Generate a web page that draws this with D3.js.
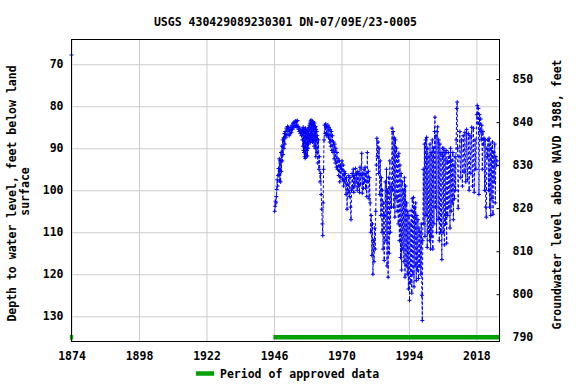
<!DOCTYPE html>
<html>
<head>
<meta charset="utf-8">
<script src="https://cdn.jsdelivr.net/npm/d3@7"></script>
<style>
    body { margin: 0; background: #ffffff; }
    .plotText { font-family: "DejaVu Sans Mono", monospace; font-weight: bold; font-size: 11.5px; fill: #000000; }
    .axisGrid line { stroke: #cccccc; stroke-width: 1; }
</style>
</head>
<body>
<div id="gwChart"></div>
<script>
// tick labels
const yearTicks = [1874, 1898, 1922, 1946, 1970, 1994, 2018];
const depthTicks = [70, 80, 90, 100, 110, 120, 130];
const elevTicks = [790, 800, 810, 820, 830, 840, 850];

// periods of approved data (start / end year)
const approvedStart = [1873.4, 1945.8];
const approvedEnd = [1874.6, 2026.2];

// depth to water level, feet below land surface  [year, depth]
const levelsEarly = [[1874.0, 67.8]];

const levels1940s = [
    [1946.25,105.0],[1946.4,103.8],[1946.55,102.6],[1946.7,103.0],[1946.85,101.5],[1947.0,99.8],
    [1947.15,97.5],[1947.3,99.0],[1947.45,96.5],[1947.6,94.8],[1947.75,96.2],[1947.9,92.5],
    [1948.05,97.8],[1948.2,93.0],[1948.35,98.0],[1948.5,91.0],[1948.65,95.5],[1948.8,89.5],
    [1948.95,93.0],[1949.1,88.0],[1949.25,91.5],[1949.4,87.5],[1949.55,90.0],[1949.7,86.5],
    [1949.85,89.0]
];

const levels1950s = [
    [1950.0,86.0],[1950.2,87.5],[1950.4,85.2],[1950.6,86.8],[1950.8,84.8],[1951.0,86.0],
    [1951.2,85.0],[1951.4,87.0],[1951.6,85.5],[1951.8,86.5],[1952.0,85.0],[1952.2,86.2],
    [1952.4,84.5],[1952.6,85.5],[1952.8,84.0],[1953.0,85.0],[1953.2,83.8],[1953.4,84.8],
    [1953.6,83.5],[1953.8,84.6],[1954.0,83.6],[1954.2,85.0],[1954.4,83.4],[1954.6,84.8],
    [1954.8,85.5],[1955.0,86.0],[1955.2,85.2],[1955.4,86.5],[1955.6,85.8],[1955.8,87.0],
    [1956.0,86.2],[1956.1,88.0],[1956.2,85.5],[1956.3,89.5],[1956.4,85.0],[1956.5,90.5],
    [1956.6,86.0],[1956.7,91.0],[1956.8,85.5],[1956.9,92.0],[1957.0,86.0],[1957.1,92.4],
    [1957.2,85.2],[1957.3,91.5],[1957.4,86.5],[1957.5,92.0],[1957.6,85.8],[1957.7,90.5],
    [1957.8,86.0],[1957.9,91.8],[1958.0,85.5],[1958.1,90.0],[1958.2,86.5],[1958.3,89.0],
    [1958.4,85.0],[1958.5,88.5],[1958.6,84.5],[1958.7,88.0],[1958.8,84.0],[1958.9,88.6],
    [1959.0,83.5],[1959.1,87.5],[1959.2,83.3],[1959.3,88.0],[1959.4,84.0],[1959.5,87.0],
    [1959.6,83.5],[1959.7,88.5],[1959.8,84.2],[1959.9,87.8]
];

const levels1960s = [
    [1960.0,83.8],[1960.1,88.2],[1960.2,84.5],[1960.3,89.5],[1960.4,84.0],[1960.5,87.0],
    [1960.6,85.0],[1960.7,90.0],[1960.8,84.8],[1960.9,92.0],[1961.0,85.5],[1961.1,88.0],
    [1961.2,86.0],[1961.3,91.0],[1961.4,87.0],[1961.6,93.5],[1961.8,88.0],[1962.0,95.0],
    [1962.2,92.0],[1962.4,98.0],[1962.6,96.0],[1962.8,101.0],[1963.0,104.5],[1963.2,108.0],
    [1963.35,110.8],[1963.5,103.0],[1963.65,95.0],[1963.8,88.0],[1964.0,84.5],[1964.2,86.5],
    [1964.4,84.2],[1964.6,87.0],[1964.8,84.8],[1965.0,86.8],[1965.2,84.5],[1965.4,87.5],
    [1965.6,85.0],[1965.8,88.5],[1966.0,85.5],[1966.2,89.5],[1966.4,86.0],[1966.6,90.5],
    [1966.8,87.0],[1967.0,91.0],[1967.2,88.5],[1967.4,92.5],[1967.6,89.0],[1967.8,93.5],
    [1968.0,90.0],[1968.2,94.5],[1968.4,91.0],[1968.6,95.0],[1968.8,92.5],[1969.0,96.5],
    [1969.2,93.0],[1969.4,98.0],[1969.6,94.0],[1969.8,97.0]
];

const levels1970s = [
    [1970.0,95.0],[1970.2,93.0],[1970.4,97.5],[1970.6,94.0],[1970.8,99.0],[1971.0,95.5],
    [1971.2,98.0],[1971.4,96.0],[1971.6,101.0],[1971.8,97.0],[1972.0,104.5],[1972.2,98.5],
    [1972.4,100.5],[1972.6,96.5],[1972.8,101.5],[1973.0,97.0],[1973.2,104.0],[1973.4,107.0],
    [1973.6,100.0],[1973.8,96.0],[1974.0,99.5],[1974.2,95.0],[1974.4,100.5],[1974.6,96.5],
    [1974.8,99.0],[1975.0,94.8],[1975.2,98.0],[1975.4,96.0],[1975.6,100.0],[1975.8,95.5],
    [1976.0,99.0],[1976.2,96.0],[1976.4,100.5],[1976.6,94.5],[1976.8,98.5],[1977.0,96.5],
    [1977.2,91.2],[1977.4,100.7],[1977.6,96.0],[1977.8,99.5],[1978.0,95.0],[1978.2,98.0],
    [1978.4,94.5],[1978.6,99.5],[1978.8,96.0],[1979.0,101.5],[1979.2,91.0],[1979.4,98.0],
    [1979.6,95.5],[1979.8,102.0]
];

const levels1980s = [
    [1980.0,97.0],[1980.2,103.0],[1980.4,110.0],[1980.6,106.0],[1980.8,115.5],[1981.0,108.0],
    [1981.2,120.0],[1981.4,112.0],[1981.6,117.0],[1981.8,109.0],[1982.0,114.0],[1982.2,105.0],
    [1982.4,94.0],[1982.6,87.6],[1982.8,92.0],[1983.0,88.5],[1983.2,96.0],[1983.4,90.0],
    [1983.6,101.0],[1983.8,93.0],[1984.0,106.0],[1984.2,97.0],[1984.4,110.0],[1984.6,100.0],
    [1984.8,114.0],[1985.0,103.0],[1985.2,116.7],[1985.4,106.0],[1985.6,98.0],[1985.8,112.0],
    [1986.0,95.0],[1986.2,118.0],[1986.4,100.0],[1986.6,120.7],[1986.8,97.0],[1987.0,115.0],
    [1987.2,93.0],[1987.4,110.0],[1987.6,99.0],[1987.8,104.0],[1988.0,85.2],[1988.2,100.0],
    [1988.4,86.0],[1988.6,104.0],[1988.8,87.5],[1989.0,106.4],[1989.2,88.0],[1989.4,102.0],
    [1989.6,90.0],[1989.8,105.0]
];

const levels1990s = [
    [1990.0,92.0],[1990.2,108.0],[1990.4,91.2],[1990.6,112.0],[1990.8,94.0],[1991.0,116.0],
    [1991.2,96.0],[1991.4,119.0],[1991.6,98.0],[1991.8,114.0],[1992.0,100.0],[1992.2,117.0],
    [1992.4,97.0],[1992.6,120.7],[1992.8,99.0],[1993.0,118.0],[1993.2,103.0],[1993.4,120.0],
    [1993.6,105.0],[1993.8,123.5],[1994.0,106.0],[1994.2,126.2],[1994.4,108.0],[1994.6,122.0],
    [1994.8,104.8],[1995.0,124.5],[1995.2,102.0],[1995.4,120.0],[1995.6,101.7],[1995.8,123.0],
    [1996.0,104.0],[1996.2,118.0],[1996.4,103.0],[1996.6,121.5],[1996.8,106.0],[1997.0,119.0],
    [1997.2,107.0],[1997.4,121.0],[1997.6,109.0],[1997.8,118.0],[1998.0,110.0],[1998.2,120.0],
    [1998.4,108.0],[1998.6,125.0],[1998.75,131.0],[1998.9,112.0],[1999.1,95.0],[1999.3,108.0],
    [1999.5,89.0],[1999.7,111.0],[1999.9,88.0]
];

const levels2000s = [
    [2000.1,106.0],[2000.3,87.4],[2000.5,113.6],[2000.7,90.0],[2000.9,110.0],[2001.1,92.0],
    [2001.3,112.0],[2001.5,89.0],[2001.7,114.0],[2001.9,91.0],[2002.1,111.0],[2002.3,88.0],
    [2002.5,114.0],[2002.7,90.0],[2002.9,108.0],[2003.1,86.0],[2003.25,82.6],[2003.4,104.0],
    [2003.6,87.0],[2003.8,110.0],[2004.0,86.0],[2004.2,84.9],[2004.4,107.0],[2004.6,88.0],
    [2004.8,112.0],[2005.0,89.0],[2005.2,110.0],[2005.4,91.0],[2005.7,116.5],[2005.9,90.0],
    [2006.0,92.0],[2006.2,110.0],[2006.4,90.0],[2006.6,113.0],[2006.8,91.0],[2007.0,108.0],
    [2007.2,90.5],[2007.4,112.6],[2007.6,93.0],[2007.8,106.0],[2008.0,91.0],[2008.2,104.0],
    [2008.4,92.0],[2008.6,109.0],[2008.8,90.0],[2009.0,105.0],[2009.2,93.0],[2009.4,103.0],
    [2009.6,91.0],[2009.8,107.0]
];

const levels2010s = [
    [2010.0,94.0],[2010.2,102.0],[2010.4,92.0],[2010.6,100.0],[2010.8,88.0],[2011.0,80.5],
    [2011.15,79.0],[2011.3,90.0],[2011.5,104.3],[2011.8,92.0],[2012.1,86.0],[2012.4,97.0],
    [2012.7,88.0],[2013.0,99.0],[2013.3,87.0],[2013.6,95.7],[2013.9,86.2],[2014.2,98.0],
    [2014.5,85.5],[2014.8,97.5],[2015.1,86.5],[2015.4,100.0],[2015.7,87.0],[2016.0,96.0],
    [2016.3,85.0],[2016.6,99.0],[2016.9,85.2],[2017.2,100.5],[2017.5,88.0],[2017.8,95.0],
    [2018.1,82.0],[2018.3,79.8],[2018.5,84.0],[2018.7,80.5],[2018.9,101.0],[2019.1,82.0],
    [2019.3,86.0],[2019.5,83.0],[2019.7,88.0],[2019.9,84.5]
];

const levels2020s = [
    [2020.1,95.0],[2020.3,86.0],[2020.5,89.0],[2020.7,87.6],[2020.9,100.0],[2021.1,88.0],
    [2021.3,104.0],[2021.5,106.4],[2021.7,90.0],[2021.9,92.0],[2022.1,88.0],[2022.3,100.0],
    [2022.5,87.6],[2022.7,104.0],[2022.9,89.0],[2023.1,106.0],[2023.3,90.0],[2023.5,102.0],
    [2023.7,88.5],[2023.9,105.7],[2024.1,91.0],[2024.3,98.0],[2024.5,89.0],[2024.7,103.0],
    [2024.9,92.0],[2025.1,94.0],[2025.3,93.0]
];

{
    let width = 576, height = 384;
    let plot = {left: 71.5, top: 39.5, right: 499.5, bottom: 341.5};

    let svg = d3.select("#gwChart")
        .append("svg")
        .attr("width", width)
        .attr("height", height);

    // scales
    let x = d3.scaleLinear()
        .domain([1874, 2026.2])
        .range([plot.left, plot.right]);

    let y = d3.scaleLinear()
        .domain([64.1, 136.0])
        .range([plot.top, plot.bottom]);

    let yElev = d3.scaleLinear()
        .domain([859.2, 789.0])
        .range([plot.top, plot.bottom]);

    // vertical grid
    svg.append("g")
        .attr("class", "axisGrid")
        .attr("transform", `translate(0, ${plot.bottom})`)
        .call(d3.axisBottom(x).tickValues(yearTicks).tickSize(-(plot.bottom - plot.top)).tickFormat(""))
        .call(g => g.select(".domain").remove());

    // horizontal grid
    svg.append("g")
        .attr("class", "axisGrid")
        .attr("transform", `translate(${plot.left}, 0)`)
        .call(d3.axisLeft(y).tickValues(depthTicks).tickSize(-(plot.right - plot.left)).tickFormat(""))
        .call(g => g.select(".domain").remove());

    // x axis labels
    svg.append("g")
        .attr("transform", `translate(0, ${plot.bottom})`)
        .call(d3.axisBottom(x).tickValues(yearTicks).tickSize(0).tickPadding(10).tickFormat(d3.format("d")))
        .call(g => g.select(".domain").remove())
        .call(g => g.selectAll("text").attr("class", "plotText"));

    // left axis labels
    svg.append("g")
        .attr("transform", `translate(${plot.left}, 0)`)
        .call(d3.axisLeft(y).tickValues(depthTicks).tickSize(0).tickPadding(8))
        .call(g => g.select(".domain").remove())
        .call(g => g.selectAll("text").attr("class", "plotText"));

    // right axis (elevation), ticks inward
    svg.append("g")
        .attr("transform", `translate(${plot.right}, 0)`)
        .call(d3.axisRight(yElev).tickValues(elevTicks).tickSize(-3).tickPadding(13))
        .call(g => g.select(".domain").remove())
        .call(g => g.selectAll("line").attr("stroke", "#000"))
        .call(g => g.selectAll("text").attr("class", "plotText"));

    // approved data periods
    let periods = approvedStart.map(function(s, i) { return {start: s, end: approvedEnd[i]}; });
    svg.selectAll(".approved")
        .data(periods)
        .join("line")
        .attr("class", "approved")
        .attr("x1", function(d) { return x(d.start); })
        .attr("x2", function(d) { return x(d.end); })
        .attr("y1", y(135.0))
        .attr("y2", y(135.0))
        .attr("stroke", "#00a000")
        .attr("stroke-width", 4.5);

    // water level series
    let levels = levels1940s.concat(levels1950s, levels1960s, levels1970s,
        levels1980s, levels1990s, levels2000s, levels2010s, levels2020s);

    let line = d3.line()
        .x(function(d) { return x(d[0]); })
        .y(function(d) { return y(d[1]); });

    svg.append("path")
        .datum(levels)
        .attr("fill", "none")
        .attr("stroke", "#0000ff")
        .attr("stroke-width", 1)
        .attr("stroke-dasharray", "3,2")
        .attr("d", line);

    // + markers
    svg.selectAll(".levelDot")
        .data(levelsEarly.concat(levels))
        .join("path")
        .attr("class", "levelDot")
        .attr("transform", function(d) { return `translate(${x(d[0])}, ${y(d[1])})`; })
        .attr("d", "M-2,0H2M0,-2V2")
        .attr("stroke", "#0000ff")
        .attr("stroke-width", 1)
        .attr("fill", "none");

    // plot frame
    svg.append("rect")
        .attr("x", plot.left)
        .attr("y", plot.top)
        .attr("width", plot.right - plot.left)
        .attr("height", plot.bottom - plot.top)
        .attr("fill", "none")
        .attr("stroke", "#000000")
        .attr("stroke-width", 1);

    // title
    svg.append("text")
        .attr("class", "plotText")
        .attr("text-anchor", "middle")
        .attr("x", (plot.left + plot.right) / 2)
        .attr("y", 26)
        .text("USGS 430429089230301 DN-07/09E/23-0005");

    // left axis title
    let midY = (plot.top + plot.bottom) / 2;
    svg.append("text")
        .attr("class", "plotText")
        .attr("text-anchor", "middle")
        .attr("transform", `translate(16, ${midY + 3}) rotate(-90)`)
        .text("Depth to water level, feet below land");
    svg.append("text")
        .attr("class", "plotText")
        .attr("text-anchor", "middle")
        .attr("transform", `translate(29, ${midY + 1}) rotate(-90)`)
        .text("surface");

    // right axis title
    svg.append("text")
        .attr("class", "plotText")
        .attr("text-anchor", "middle")
        .attr("transform", `translate(561, ${midY + 4}) rotate(-90)`)
        .text("Groundwater level above NAVD 1988, feet");

    // legend
    svg.append("line")
        .attr("x1", 196)
        .attr("x2", 214)
        .attr("y1", 373.5)
        .attr("y2", 373.5)
        .attr("stroke", "#00a000")
        .attr("stroke-width", 4.5);
    svg.append("text")
        .attr("class", "plotText")
        .attr("x", 220)
        .attr("y", 378)
        .text("Period of approved data");
}
</script>
</body>
</html>
